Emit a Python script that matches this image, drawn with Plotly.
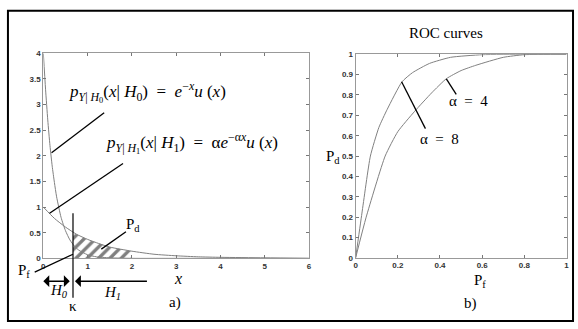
import plotly.graph_objects as go

W, H = 578, 329

# ---- panel a): conditional densities (alpha = 4) ----
h1_x = [0, 0.05, 0.1, 0.15, 0.2, 0.25, 0.3, 0.4, 0.5, 0.6, 0.7, 0.8, 1.0, 1.2, 1.5, 2.0, 3.0, 6.0]
h1_y = [4.0, 3.3, 2.7, 2.2, 1.8, 1.48, 1.2, 0.8, 0.54, 0.36, 0.24, 0.16, 0.07, 0.03, 0.01, 0.0, 0.0, 0.0]
h0_x = [0, 0.25, 0.5, 0.75, 1.0, 1.25, 1.5, 2.0, 2.5, 3.0, 3.5, 4.0, 5.0, 6.0]
h0_y = [1.0, 0.78, 0.61, 0.47, 0.37, 0.29, 0.22, 0.14, 0.08, 0.05, 0.03, 0.02, 0.01, 0.0]
kappa = 0.67
hatch_x = [0.67, 0.75, 1.0, 1.25, 1.5, 2.0]
hatch_y = [0.51, 0.47, 0.37, 0.29, 0.22, 0.14]
a_xticks = [0, 1, 2, 3, 4, 5, 6]
a_yticks = [0, 0.5, 1, 1.5, 2, 2.5, 3, 3.5, 4]
a_yticktext = ["0", "0.5", "1", "1.5", "2", "2.5", "3", "3.5", "4"]

# ---- panel b): ROC curves ----
roc8_pf = [0, 0.03, 0.07, 0.11, 0.15, 0.22, 0.27, 0.35, 0.45, 0.6, 0.8, 1.0]
roc8_pd = [0, 0.22, 0.5, 0.64, 0.73, 0.865, 0.91, 0.955, 0.985, 0.998, 1.0, 1.0]
roc4_pf = [0, 0.05, 0.14, 0.2, 0.28, 0.36, 0.43, 0.5, 0.57, 0.7, 0.8, 1.0]
roc4_pd = [0, 0.2, 0.5, 0.62, 0.72, 0.81, 0.88, 0.92, 0.946, 0.985, 0.998, 1.0]
b_xticks = [0, 0.2, 0.4, 0.6, 0.8, 1]
b_xticktext = ["0", "0.2", "0.4", "0.6", "0.8", "1"]
b_yticks = [0, 0.1, 0.2, 0.3, 0.4, 0.5, 0.6, 0.7, 0.8, 0.9, 1]
b_yticktext = ["0", "0.1", "0.2", "0.3", "0.4", "0.5", "0.6", "0.7", "0.8", "0.9", "1"]

CURVE = "#808080"
SERIF = "Liberation Serif"

# plot-area boxes in pixels: (left, right, bottom, top)
BOX_A = (41.7, 309.6, 261.5, 50.7)
BOX_B = (356.7, 569.5, 261.0, 51.7)
RANGE_A = ((0, 6), (0, 4))
RANGE_B = ((0, 1), (0, 1))


def px(x, y):
    """pixel position -> paper coordinates"""
    return x / W, 1 - y / H


def data_to_paper(x, y, box, rng):
    (l, r, b, t), ((xa, xb), (ya, yb)) = box, rng
    pxx = l + (x - xa) / (xb - xa) * (r - l)
    pxy = b - (y - ya) / (yb - ya) * (b - t)
    return px(pxx, pxy)


fig = go.Figure()

fig.add_trace(go.Scatter(x=hatch_x, y=hatch_y, mode="lines", fill="tozeroy",
                         line=dict(width=0, color="rgba(0,0,0,0)"),
                         fillcolor="rgba(0,0,0,0)",
                         fillpattern=dict(shape="/", fgcolor="black", bgcolor="rgba(0,0,0,0)",
                                          size=8, solidity=0.42),
                         xaxis="x", yaxis="y", hoverinfo="skip"))
fig.add_trace(go.Scatter(x=h1_x, y=h1_y, mode="lines", line=dict(color=CURVE, width=1, shape="spline", smoothing=0.6),
                         xaxis="x", yaxis="y"))
fig.add_trace(go.Scatter(x=h0_x, y=h0_y, mode="lines", line=dict(color=CURVE, width=1, shape="spline", smoothing=0.6),
                         xaxis="x", yaxis="y"))
fig.add_trace(go.Scatter(x=roc8_pf, y=roc8_pd, mode="lines", line=dict(color=CURVE, width=1, shape="spline", smoothing=0.5),
                         xaxis="x2", yaxis="y2"))
fig.add_trace(go.Scatter(x=roc4_pf, y=roc4_pd, mode="lines", line=dict(color=CURVE, width=1, shape="spline", smoothing=0.5),
                         xaxis="x2", yaxis="y2"))

tickfont = dict(family="Liberation Sans", size=8, color="#333", weight="bold")
axis_common = dict(showgrid=False, zeroline=False, showline=True, linecolor="#999", linewidth=1,
                   mirror="ticks", ticks="inside", ticklen=3, tickcolor="#777", tickfont=tickfont,
                   fixedrange=True)

fig.update_layout(
    width=W, height=H, autosize=False,
    margin=dict(l=0, r=0, t=0, b=0),
    paper_bgcolor="white", plot_bgcolor="white",
    showlegend=False,
    xaxis=dict(domain=[BOX_A[0] / W, BOX_A[1] / W], range=list(RANGE_A[0]), tickvals=a_xticks,
               anchor="y", **axis_common),
    yaxis=dict(domain=[1 - BOX_A[2] / H, 1 - BOX_A[3] / H], range=list(RANGE_A[1]), tickvals=a_yticks,
               ticktext=a_yticktext, anchor="x", **axis_common),
    xaxis2=dict(domain=[BOX_B[0] / W, BOX_B[1] / W], range=list(RANGE_B[0]), tickvals=b_xticks,
                ticktext=b_xticktext, anchor="y2", **axis_common),
    yaxis2=dict(domain=[1 - BOX_B[2] / H, 1 - BOX_B[3] / H], range=list(RANGE_B[1]), tickvals=b_yticks,
                ticktext=b_yticktext, anchor="x2", **axis_common),
)

shapes = []
# outer frame
x0, y0 = px(6, 7)
x1, y1 = px(576, 326)
shapes.append(dict(type="rect", xref="paper", yref="paper", x0=x0, y0=y1, x1=x1, y1=y0,
                   line=dict(color="black", width=2)))


def seg(xa, ya, xb, yb, panel="a", width=1.3):
    """line segment given in a panel's data coordinates (drawn unclipped)"""
    box, rng = (BOX_A, RANGE_A) if panel == "a" else (BOX_B, RANGE_B)
    p0 = data_to_paper(xa, ya, box, rng)
    p1 = data_to_paper(xb, yb, box, rng)
    shapes.append(dict(type="line", xref="paper", yref="paper", x0=p0[0], y0=p0[1], x1=p1[0], y1=p1[1],
                       line=dict(color="black", width=width)))


# leader lines, panel a)
seg(0.186, 2.06, 1.374, 2.84)
seg(0.141, 0.88, 1.80, 1.85)
seg(kappa, 0.88, kappa, -0.77, width=1.2)
seg(-0.195, -0.27, kappa, 0.08)
seg(1.31, 0.18, 1.866, 0.52)
# leader lines, panel b)
seg(0.218, 0.865, 0.331, 0.635, panel="b")
seg(0.43, 0.879, 0.477, 0.803, panel="b")

annotations = []

# decision-region arrows (H0 to the left of kappa, H1 to the right)
arrow_y = -0.446
h0_tip = data_to_paper(0.0, arrow_y, BOX_A, RANGE_A)
h0_end = data_to_paper(kappa, arrow_y, BOX_A, RANGE_A)
h1_tip = data_to_paper(kappa, arrow_y, BOX_A, RANGE_A)
h1_tail = data_to_paper(2.36, arrow_y, BOX_A, RANGE_A)
annotations.append(dict(x=h0_tip[0], y=h0_tip[1], xref="paper", yref="paper",
                        ax=(h0_end[0] - h0_tip[0]) * W - 2, ay=0, axref="pixel", ayref="pixel",
                        showarrow=True, arrowhead=1, startarrowhead=1, arrowside="end+start",
                        arrowsize=1.4, startarrowsize=1.4, arrowwidth=1.4, arrowcolor="black", text=""))
annotations.append(dict(x=h1_tip[0] + 2 / W, y=h1_tip[1], xref="paper", yref="paper",
                        ax=(h1_tail[0] - h1_tip[0]) * W - 2, ay=0, axref="pixel", ayref="pixel",
                        showarrow=True, arrowhead=1, arrowsize=1.4, arrowwidth=1.4, arrowcolor="black", text=""))


def label(x, y, text, size=15):
    xp, yp = px(x, y)
    annotations.append(dict(x=xp, y=yp, xref="paper", yref="paper", text=text, showarrow=False,
                            xanchor="center", yanchor="middle",
                            font=dict(family=SERIF, size=size, color="black")))


# text, panel a)
label(147, 90, "<i>p</i><sub><i>Y</i>| <i>H</i><sub>0</sub></sub>(<i>x</i>| <i>H</i><sub>0</sub>)  =  "
      "<i>e</i><sup>−<i>x</i></sup><i>u</i> (<i>x</i>)", size=17)
label(192, 143, "<i>p</i><sub><i>Y</i>| <i>H</i><sub>1</sub></sub>(<i>x</i>| <i>H</i><sub>1</sub>)  =  "
      "α<i>e</i><sup>−α<i>x</i></sup><i>u</i> (<i>x</i>)", size=17)
label(132, 227, "P<sub>d</sub>", size=15)
label(22, 275, "P<sub>f</sub>", size=15)
label(57, 295, "<i>H<sub>0</sub></i>", size=15)
label(111, 297, "<i>H<sub>1</sub></i>", size=15)
label(72, 310, "κ", size=15)
label(178, 282, "<i>x</i>", size=16)
label(175, 307, "a)", size=15)

# text, panel b)
label(448, 30, "ROC curves", size=15)
label(334, 157, "P<sub>d</sub>", size=15)
label(482, 285, "P<sub>f</sub>", size=15)
label(473, 308, "b)", size=15)
label(471, 100, "α  =  4", size=15)
label(441, 139, "α  =  8", size=15)

fig.update_layout(annotations=annotations, shapes=shapes)

fig.write_html("out.html")
